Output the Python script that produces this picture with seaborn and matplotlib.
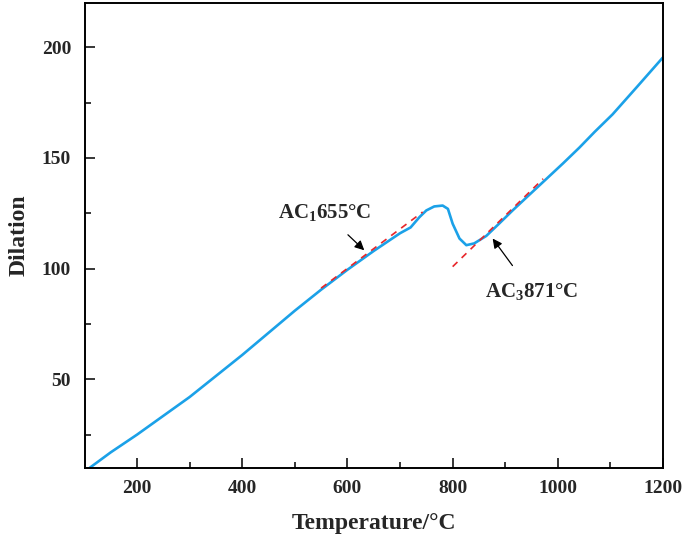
import matplotlib
matplotlib.use("Agg")
import matplotlib.pyplot as plt
import seaborn as sns
import pandas as pd
from matplotlib.ticker import MultipleLocator

# ---- data ----
temperature = [110, 150, 200, 250, 300, 350, 400, 450, 500, 550, 600, 650, 700,
               720, 737, 750, 765, 781, 791, 800, 813, 826, 841, 864, 889,
               914, 945, 978, 1010, 1041, 1070, 1104, 1150, 1200]
dilation = [10, 17, 25, 33.5, 42, 51.5, 61, 71, 81, 90.5, 99.5, 108, 116,
            118.6, 123.3, 126.3, 128.1, 128.5, 127, 120.3, 113.6, 110.6, 111.4, 114.8, 120.5,
            126.3, 133.2, 140.5, 147.6, 154.7, 161.8, 169.7, 182, 195.5]

tangent1_t = [550, 743]
tangent1_d = [91.2, 125.6]
tangent2_t = [800, 972]
tangent2_d = [100.9, 140.6]

ac1_label = "AC$_1$655°C"
ac3_label = "AC$_3$871°C"

sns.set_style("ticks")
plt.rcParams['font.family'] = ['Liberation Serif', 'DejaVu Serif']
plt.rcParams['font.weight'] = 'bold'
plt.rcParams['mathtext.fontset'] = 'custom'
plt.rcParams['mathtext.rm'] = 'Liberation Serif:bold'
plt.rcParams['mathtext.it'] = 'Liberation Serif:bold'
plt.rcParams['mathtext.bf'] = 'Liberation Serif:bold'

fig = plt.figure(figsize=(6.85, 5.39), dpi=100)
ax = fig.add_axes([0.124, 0.132, 0.844, 0.8624])

df = pd.DataFrame({"T": temperature, "D": dilation})
sns.lineplot(data=df, x="T", y="D", ax=ax, color="#1BA1E8", linewidth=1.9,
             sort=False, estimator=None)
sns.lineplot(x=tangent1_t, y=tangent1_d, ax=ax, color="#E8262A", linewidth=1.2,
             dashes=False, estimator=None)
sns.lineplot(x=tangent2_t, y=tangent2_d, ax=ax, color="#E8262A", linewidth=1.2,
             dashes=False, estimator=None)
for ln in ax.lines[1:]:
    ln.set_dashes([4, 3.5])

ax.set_xlim(101, 1200)
ax.set_ylim(10, 220)
ax.xaxis.set_major_locator(MultipleLocator(200))
ax.xaxis.set_minor_locator(MultipleLocator(100))
ax.yaxis.set_major_locator(MultipleLocator(50))
ax.yaxis.set_minor_locator(MultipleLocator(25))
ax.tick_params(which='both', direction='in', top=False, right=False,
               width=1.3, labelsize=14)
ax.tick_params(axis='x', which='major', pad=9)
ax.tick_params(axis='y', which='major', pad=10)
ax.tick_params(which='major', length=7)
ax.tick_params(which='minor', length=4)
for lab in ax.get_xticklabels() + ax.get_yticklabels():
    lab.set_fontweight('bold')
for s in ax.spines.values():
    s.set_visible(True)
    s.set_linewidth(1.4)
    s.set_color('black')

ax.set_xlabel("Temperature/°C", fontsize=17, fontweight='bold', labelpad=11)
ax.set_ylabel("Dilation", fontsize=17, fontweight='bold', labelpad=9)

ax.annotate(ac1_label, xy=(632, 108.3), xytext=(556, 125.4), fontsize=15,
            fontweight='bold', ha='center', va='center',
            arrowprops=dict(arrowstyle='-|>', color='black', lw=0.9,
                            mutation_scale=14, shrinkA=9, shrinkB=0))
ax.annotate(ac3_label, xy=(876, 113.6), xytext=(950, 89.6), fontsize=15,
            fontweight='bold', ha='center', va='center',
            arrowprops=dict(arrowstyle='-|>', color='black', lw=0.9,
                            mutation_scale=14, shrinkA=11, shrinkB=0))

fig.savefig("out.png", dpi=100)
